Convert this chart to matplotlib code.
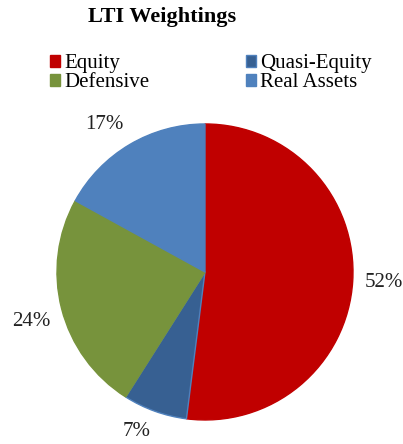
import numpy as np
import matplotlib
matplotlib.use("Agg")
import matplotlib.pyplot as plt
from matplotlib.patches import Patch

categories = ["Equity", "Quasi-Equity", "Defensive", "Real Assets"]
values = [52, 7, 24, 17]
colors = ["#C00000", "#376092", "#77933C", "#4F81BD"]
edges = ["#C00000", "#4F81BD", "#77933C", "#4F81BD"]

plt.rcParams['font.family'] = ['Liberation Serif', 'DejaVu Serif']

fig = plt.figure(figsize=(4.03, 4.44), dpi=100)
ax = fig.add_axes([0.1414, 0.0541, 0.7345, 0.6667])
wedges, texts, autotexts = ax.pie(values, colors=colors, startangle=90, counterclock=False,
                                  autopct='%d%%', pctdistance=1.2, radius=1,
                                  wedgeprops=dict(linewidth=1),
                                  textprops=dict(fontsize=15, color='#222222'))
for w, e, t in zip(wedges, edges, autotexts):
    w.set_edgecolor(e)
    ang = np.deg2rad((w.theta1 + w.theta2) / 2)
    c, s = np.cos(ang), np.sin(ang)
    d = 1.08
    t.set_position((d * c, d * s))
    t.set_ha('left' if c > 0.2 else ('right' if c < -0.2 else 'center'))
    t.set_va('bottom' if s > 0.3 else ('top' if s < -0.2 else 'center'))
ax.set_xlim(-1, 1)
ax.set_ylim(-1, 1)
ax.set_aspect('equal')

fig.text(0.402, 0.962, "LTI Weightings", ha='center', va='center', fontsize=16, fontweight='bold')

handles = [Patch(facecolor=c, edgecolor=e) for c, e in zip(colors, edges)]
order = [0, 2, 1, 3]
leg = fig.legend([handles[i] for i in order], [categories[i] for i in order],
                 ncol=2, loc='upper left', bbox_to_anchor=(50 / 403, 1 - 54 / 444),
                 frameon=False, fontsize=15, handlelength=0.5, handleheight=0.5,
                 handletextpad=0.2, columnspacing=4.6, labelspacing=0.0,
                 borderpad=0, borderaxespad=0)

fig.savefig("out.png", dpi=100)
